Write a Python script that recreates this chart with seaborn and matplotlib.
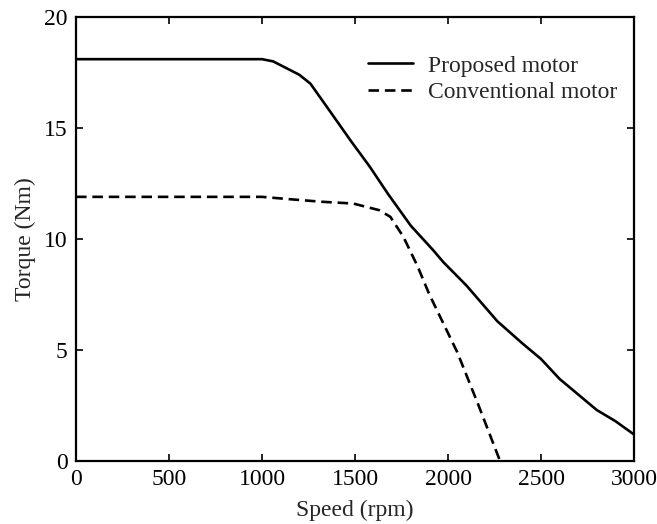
import matplotlib
matplotlib.use("Agg")
import matplotlib.pyplot as plt
import seaborn as sns
import pandas as pd

# Proposed motor (speed rpm, torque Nm)
prop_speed = [0, 1000, 1060, 1130, 1200, 1260, 1370, 1475, 1580, 1680, 1740, 1800, 1920, 1975, 2100, 2265, 2400, 2500, 2600, 2700, 2800, 2900, 3000]
prop_torque = [18.1, 18.1, 18.0, 17.7, 17.4, 17.0, 15.7, 14.45, 13.25, 12.0, 11.3, 10.6, 9.5, 8.96, 7.9, 6.3, 5.3, 4.6, 3.7, 3.0, 2.3, 1.8, 1.2]

# Conventional motor
conv_speed = [0, 1000, 1170, 1320, 1490, 1630, 1690, 1760, 1835, 1900, 2050, 2160, 2280]
conv_torque = [11.9, 11.9, 11.78, 11.68, 11.6, 11.3, 11.0, 10.1, 8.8, 7.5, 4.9, 2.6, 0.0]

labels = ["Proposed motor", "Conventional motor"]
x_ticks = [0, 500, 1000, 1500, 2000, 2500, 3000]
y_ticks = [0, 5, 10, 15, 20]

df = pd.concat([
    pd.DataFrame({"Speed": prop_speed, "Torque": prop_torque, "Motor": labels[0]}),
    pd.DataFrame({"Speed": conv_speed, "Torque": conv_torque, "Motor": labels[1]}),
])

sns.set_theme(style="ticks")
plt.rcParams["font.family"] = ["Liberation Serif", "DejaVu Serif"]

fig = plt.figure(figsize=(6.57, 5.24), dpi=100)
ax = fig.add_axes([0.1157, 0.120, 0.8493, 0.8476])

sns.lineplot(data=df, x="Speed", y="Torque", hue="Motor", style="Motor",
             palette=["black", "black"], dashes={labels[0]: "", labels[1]: (4, 2.2)},
             linewidth=1.9, ax=ax, sort=False)

ax.set_xlim(0, 3000)
ax.set_ylim(0, 20)
ax.set_xticks(x_ticks)
ax.set_yticks(y_ticks)
ax.tick_params(direction="in", length=5, width=1.2, top=True, right=True,
               labelsize=17, colors="black", pad=6)
for s in ax.spines.values():
    s.set_linewidth(1.6)
    s.set_color("black")
ax.set_xlabel("Speed (rpm)", fontsize=17, labelpad=7)
ax.set_ylabel("Torque (Nm)", fontsize=17, labelpad=6)

leg = ax.legend(loc="upper right", frameon=False, fontsize=17, handlelength=1.9,
                bbox_to_anchor=(1.008, 0.962), labelspacing=0.2, handletextpad=0.65)
for h in leg.get_lines():
    h.set_color("black")
    h.set_linewidth(1.9)

fig.savefig("out.png", dpi=100)
